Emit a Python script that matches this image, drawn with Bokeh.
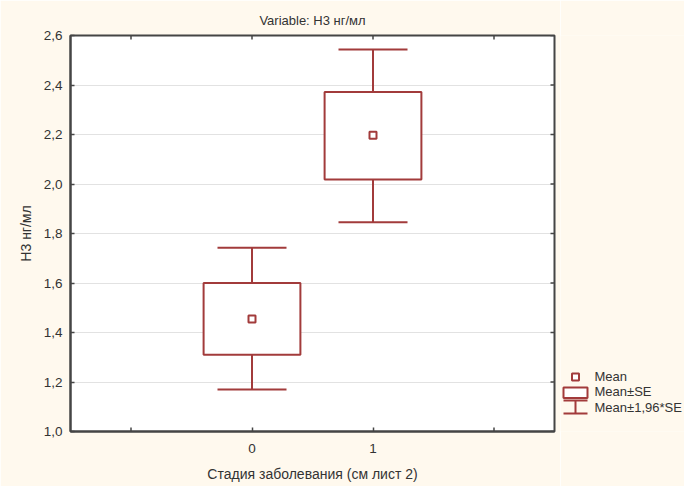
import math
from bokeh.plotting import figure
from bokeh.layouts import row
from bokeh.models import FixedTicker, Range1d, ColumnDataSource, CustomJSTickFormatter
from bokeh.core.properties import value
from bokeh.embed import file_html
from bokeh.resources import INLINE

# ---- data ----
stages = [0, 1]
mean = [1.455, 2.197]
se_low = [1.310, 2.018]
se_high = [1.600, 2.372]
ci_low = [1.170, 1.845]
ci_high = [1.742, 2.543]
y_ticks = [1.0, 1.2, 1.4, 1.6, 1.8, 2.0, 2.2, 2.4, 2.6]
x_labelled = [0, 1]
x_unlabelled = [-1, 2]

title_text = "Variable: Н3 нг/мл"
x_title = "Стадия заболевания (см лист 2)"
y_title = "Н3 нг/мл"
legend_labels = ["Mean", "Mean±SE", "Mean±1,96*SE"]

CREAM = "#FFF9EE"
RED = "#A23B3B"
DARK = "#454545"
TXT = "#333333"
FONT = "Liberation Sans"

src = ColumnDataSource(dict(x=stages, mean=mean, se_low=se_low, se_high=se_high,
                            ci_low=ci_low, ci_high=ci_high))

p = figure(width=560, height=486, x_range=(-1.5, 2.5), y_range=(1.0, 2.6),
           output_backend="svg", toolbar_location=None,
           min_border_left=70, min_border_right=6, min_border_top=35, min_border_bottom=55,
           background_fill_color="white", border_fill_color=CREAM,
           outline_line_color=DARK, outline_line_width=2)

p.title.text = title_text
p.title.align = "center"
p.title.text_font = FONT
p.title.text_font_size = "13px"
p.title.text_font_style = "normal"
p.title.text_color = TXT
p.title.standoff = 16

p.xaxis.ticker = FixedTicker(ticks=x_labelled)
p.xaxis.formatter = CustomJSTickFormatter(code="return tick.toFixed(0);")
p.xaxis.axis_label = x_title
p.yaxis.ticker = FixedTicker(ticks=y_ticks)
p.yaxis.formatter = CustomJSTickFormatter(code="return tick.toFixed(1).replace('.', ',');")
p.yaxis.axis_label = y_title

for ax in p.axis:
    ax.axis_line_color = DARK
    ax.axis_line_width = 2
    ax.major_tick_in = 4
    ax.major_tick_out = 0
    ax.major_tick_line_color = DARK
    ax.major_tick_line_width = 1.5
    ax.minor_tick_line_color = None
    ax.major_label_text_font = FONT
    ax.major_label_text_font_size = "13.5px"
    ax.major_label_text_color = TXT
    ax.axis_label_text_font = FONT
    ax.axis_label_text_font_size = "14px"
    ax.axis_label_text_font_style = "normal"
    ax.axis_label_text_color = TXT

p.xaxis.major_label_standoff = 12
p.xaxis.axis_label_standoff = 10
p.yaxis.major_label_standoff = 8
p.yaxis.axis_label_standoff = 7

p.xgrid.grid_line_color = None
p.ygrid.grid_line_color = "#C4C4C4"
p.ygrid.grid_line_dash = "1 1"
p.ygrid.grid_line_width = 1

# inward tick marks on the top / right edges and the unlabelled bottom ticks
top_ticks = x_labelled + x_unlabelled
p.scatter(x=top_ticks, y=[2.6] * len(top_ticks), marker="dash", angle=math.pi / 2,
          size=8, line_color=DARK, line_width=1.5)
p.scatter(x=x_unlabelled, y=[1.0] * len(x_unlabelled), marker="dash", angle=math.pi / 2,
          size=8, line_color=DARK, line_width=1.5)
p.scatter(x=[2.5] * len(y_ticks), y=y_ticks, marker="dash",
          size=8, line_color=DARK, line_width=1.5)

# whisker stems
p.segment(x0="x", y0="ci_low", x1="x", y1="se_low", source=src, line_color=RED, line_width=2)
p.segment(x0="x", y0="se_high", x1="x", y1="ci_high", source=src, line_color=RED, line_width=2)
# caps
p.scatter(x="x", y="ci_low", source=src, marker="dash", size=69, line_color=RED, line_width=2)
p.scatter(x="x", y="ci_high", source=src, marker="dash", size=69, line_color=RED, line_width=2)
# SE boxes
p.vbar(x="x", bottom="se_low", top="se_high", width=0.8, source=src,
       fill_color="white", line_color=RED, line_width=2)
# means
p.scatter(x="x", y="mean", source=src, marker="square", size=7,
          fill_color="white", line_color=RED, line_width=2)

# ---- legend panel ----
lg = figure(width=124, height=486, x_range=Range1d(0, 124), y_range=Range1d(486, 0),
            output_backend="svg", toolbar_location=None,
            min_border_left=0, min_border_right=0, min_border_top=0, min_border_bottom=0,
            background_fill_color=CREAM, border_fill_color=CREAM, outline_line_color=None)
lg.axis.visible = False
lg.grid.visible = False

lg.scatter(x=[15], y=[419], marker="square", size=7, fill_color="white",
           line_color=RED, line_width=2)
lg.quad(left=[3], right=[27], top=[432], bottom=[445], fill_color="white",
        line_color=RED, line_width=2)
lg.segment(x0=[3, 3, 15], y0=[448, 464, 448], x1=[27, 27, 15], y1=[448, 464, 464],
           line_color=RED, line_width=2)
lg.text(x=[34, 34, 34], y=[419, 437.5, 456], text=legend_labels,
        text_font=value(FONT), text_font_size="13px", text_color=TXT,
        text_baseline="middle", text_align="left")

layout = row(p, lg)

open("out.html", "w").write(file_html(layout, INLINE))
